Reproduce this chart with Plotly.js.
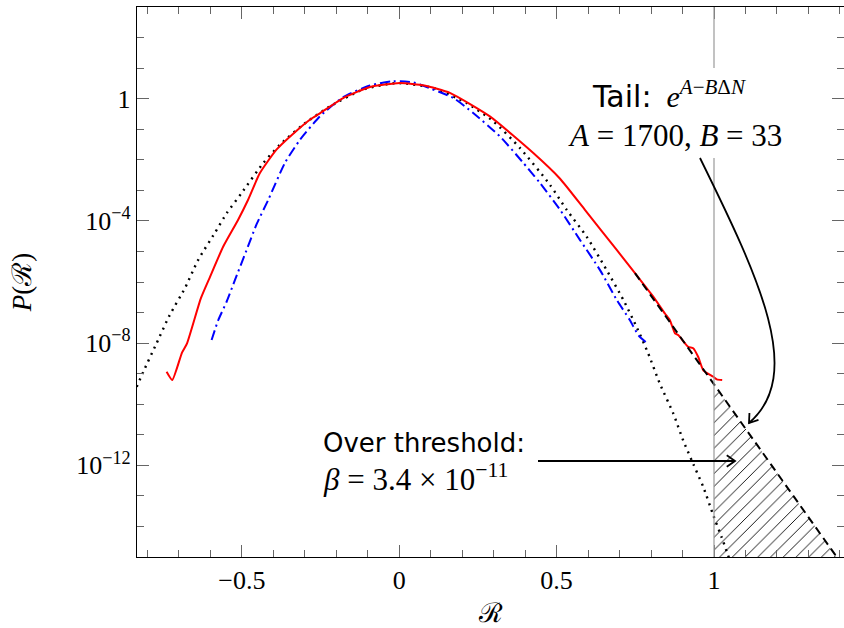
<!DOCTYPE html>
<html>
<head>
<meta charset="utf-8">
<script src="https://cdn.plot.ly/plotly-3.0.1.min.js"></script>
<style>html,body{margin:0;padding:0;background:#fff;}#chart{width:844px;height:628px;}</style>
</head>
<body>
<div id="chart"></div>
<script>
// ---- data ----
const redX = [-0.739,-0.721,-0.69,-0.674,-0.63,-0.601,-0.559,-0.512,-0.48,-0.443,-0.39,-0.326,-0.284,-0.25,-0.178,-0.093,0.002,0.08,0.161,0.288,0.426,0.511,0.59,0.691,0.749,0.807,0.844,0.86,0.876,0.887,0.918,0.934,0.95,0.966,0.998,1.009,1.026];
const redY = [1.15e-9,6.2e-10,4.9e-9,9.8e-9,2.95e-7,1.48e-6,1.45e-5,1.07e-4,4.9e-4,3.6e-3,0.0214,0.089,0.204,0.345,1.05,2.4,3.24,2.7,1.55,0.263,0.0166,2.4e-3,2.3e-4,1.12e-5,1.95e-6,3.3e-7,9.3e-8,5.6e-8,2.1e-8,1.8e-8,7.6e-9,6.8e-9,3.5e-9,1.29e-9,7.9e-10,6.5e-10,6.2e-10];

const blueX = [-0.596,-0.575,-0.548,-0.522,-0.485,-0.453,-0.416,-0.363,-0.316,-0.252,-0.178,-0.093,-0.019,0.045,0.066,0.172,0.235,0.32,0.39,0.447,0.511,0.574,0.638,0.691,0.733,0.76,0.786];
const blueY = [1.26e-8,5.6e-8,2.3e-7,1.15e-6,1.1e-5,7.8e-5,4.9e-4,7.9e-3,0.044,0.263,1.12,2.7,3.7,3.4,2.9,1.05,0.34,0.058,8.9e-3,1.74e-3,2.3e-4,2.4e-5,2.45e-6,2.6e-7,5.6e-8,1.8e-8,1.02e-8];

const gaussX = [-0.834,-0.813,-0.771,-0.729,-0.681,-0.639,-0.586,-0.548,-0.501,-0.432,-0.379,-0.305,-0.22,-0.114,-0.008,0.108,0.214,0.299,0.384,0.479,0.532,0.595,0.659,0.712,0.754,0.791,0.828,0.871,0.902,0.934,0.966,0.998,1.024,1.05];
const gaussY = [3.7e-10,1.15e-9,9.8e-9,8.3e-8,6.2e-7,5.2e-6,4.0e-5,1.78e-4,8.1e-4,7.8e-3,0.031,0.141,0.56,2.0,3.24,2.24,0.72,0.182,0.024,1.51e-3,2.3e-4,3.1e-5,2.45e-6,2.6e-7,3.4e-8,4.6e-9,4.7e-10,4.9e-11,6.6e-12,1.12e-12,1.95e-13,2.3e-14,4.5e-15,8e-16];

const tailX = [0.749, 1.39];
const tailY = [1.95e-6, 1.0e-15];

const overX = [1.0, 1.0, 1.39, 1.0];
const overY = [1.0e-15, 4.5e-10, 1.0e-15, 1.0e-15];

const threshold = 1.0;

const xMajorVals = [-0.5, 0, 0.5, 1];
const xMajorText = ['−0.5', '0', '0.5', '1'];
const xMinorVals = [-0.8,-0.7,-0.6,-0.4,-0.3,-0.2,-0.1,0.1,0.2,0.3,0.4,0.6,0.7,0.8,0.9,1.1,1.2,1.3,1.4];
const yMajorVals = [1e-12, 1e-8, 1e-4, 1];
const yMajorText = ['10<sup>−12</sup>', '10<sup>−8</sup>', '10<sup>−4</sup>', '1'];
const yMinorVals = [1e-15,1e-14,1e-13,1e-11,1e-10,1e-9,1e-7,1e-6,1e-5,1e-3,1e-2,1e-1,1e1,1e2,1e3];

// ---- layout helpers (pixel -> paper) ----
const L = 137, T = 7, W = 707, H = 550;
const X = px => (px - L) / W;
const Y = py => (T + H - py) / H;
const serif = 'Liberation Serif, DejaVu Serif, serif';
const sans = 'DejaVu Sans, sans-serif';
const sp = '\u00a0';
const sp2 = '\u00a0\u00a0';

function arrowHead(tx, ty, dx, dy, len, ang) {
  const n = Math.hypot(dx, dy); const bx = -dx / n, by = -dy / n;
  const c = Math.cos(ang), s = Math.sin(ang);
  const p1 = [tx + len * (bx * c - by * s), ty + len * (bx * s + by * c)];
  const p2 = [tx + len * (bx * c + by * s), ty + len * (-bx * s + by * c)];
  return `M ${X(p1[0])} ${Y(p1[1])} L ${X(tx)} ${Y(ty)} L ${X(p2[0])} ${Y(p2[1])}`;
}

const traces = [
  { x: overX, y: overY, mode: 'lines', fill: 'toself', line: {width: 0, color: 'rgba(0,0,0,0)'},
    fillcolor: 'white', fillpattern: {shape: '/', fgcolor: 'black', bgcolor: 'white', size: 9, solidity: 0.1},
    hoverinfo: 'skip', showlegend: false },
  { x: gaussX, y: gaussY, mode: 'lines', line: {color: 'black', width: 2.4, dash: '2px,5px', shape: 'spline', smoothing: 0.6}, showlegend: false },
  { x: blueX, y: blueY, mode: 'lines', line: {color: '#0000ff', width: 2, dash: '10px,4px,2px,4px', shape: 'spline', smoothing: 0.6}, showlegend: false },
  { x: redX, y: redY, mode: 'lines', line: {color: '#ff0000', width: 2, shape: 'spline', smoothing: 0.5}, showlegend: false },
  { x: tailX, y: tailY, mode: 'lines', line: {color: 'black', width: 2, dash: '8px,5px'}, showlegend: false }
];

const axisCommon = {
  showline: true, linecolor: 'black', linewidth: 1.2, mirror: 'allticks',
  ticks: 'inside', ticklen: 12, tickcolor: '#666', tickwidth: 1,
  showgrid: false, zeroline: false, tickmode: 'array',
  tickfont: {family: serif, size: 26, color: 'black'}
};

const layout = {
  width: 844, height: 628,
  margin: {l: L, r: 0, t: T, b: 628 - T - H},
  paper_bgcolor: 'white', plot_bgcolor: 'white',
  xaxis: Object.assign({}, axisCommon, {
    range: [-0.833, 1.413], tickvals: xMajorVals, ticktext: xMajorText,
    minor: {tickmode: 'array', tickvals: xMinorVals, ticks: 'inside', ticklen: 7, tickcolor: '#666', tickwidth: 1, showgrid: false},
    title: {text: 'ℛ', font: {family: serif, size: 27, color: 'black'}, standoff: 15}
  }),
  yaxis: Object.assign({}, axisCommon, {
    type: 'log', range: [-15, 3], tickvals: yMajorVals, ticktext: yMajorText,
    minor: {tickmode: 'array', tickvals: yMinorVals, ticks: 'inside', ticklen: 7, tickcolor: '#666', tickwidth: 1, showgrid: false},
    title: {text: '<i>P</i>(ℛ)', font: {family: serif, size: 27, color: 'black'}, standoff: 36}
  }),
  shapes: [
    {type: 'line', xref: 'x', yref: 'paper', x0: threshold, x1: threshold, y0: 0, y1: 1, line: {color: '#999', width: 1.2}, layer: 'above'},
    {type: 'rect', xref: 'paper', yref: 'paper', x0: X(555), x1: X(796), y0: Y(158), y1: Y(68), fillcolor: 'white', line: {width: 0}, layer: 'above'},
    {type: 'path', xref: 'paper', yref: 'paper', layer: 'above',
      path: `M ${X(700)} ${Y(158)} C ${X(760)} ${Y(280)}, ${X(805)} ${Y(375)}, ${X(749)} ${Y(423)}`,
      line: {color: 'black', width: 1.8}},
    {type: 'path', xref: 'paper', yref: 'paper', layer: 'above', path: arrowHead(749, 423, -0.6, 0.8, 10, 0.6), line: {color: 'black', width: 1.8}},
    {type: 'line', xref: 'paper', yref: 'paper', layer: 'above', x0: X(538), x1: X(734), y0: Y(461), y1: Y(461), line: {color: 'black', width: 1.8}},
    {type: 'path', xref: 'paper', yref: 'paper', layer: 'above', path: arrowHead(735, 461, 1, 0, 10, 0.6), line: {color: 'black', width: 1.8}}
  ],
  annotations: [
    {xref: 'paper', yref: 'paper', x: X(669), y: Y(94), xanchor: 'center', yanchor: 'middle', showarrow: false,
     text: `<span style="font-family:DejaVu Sans">Tail:</span>${sp2}<i>e</i><sup><i>A</i>−<i>B</i>Δ<i>N</i></sup>`,
     font: {family: serif, size: 30, color: 'black'}},
    {xref: 'paper', yref: 'paper', x: X(675), y: Y(135), xanchor: 'center', yanchor: 'middle', showarrow: false,
     text: `<i>A</i>${sp}=${sp}1700,${sp}<i>B</i>${sp}=${sp}33`, font: {family: serif, size: 31, color: 'black'}},
    {xref: 'paper', yref: 'paper', x: X(321), y: Y(443), xanchor: 'left', yanchor: 'middle', showarrow: false,
     text: 'Over threshold:', font: {family: sans, size: 26, color: 'black'}},
    {xref: 'paper', yref: 'paper', x: X(321), y: Y(477), xanchor: 'left', yanchor: 'middle', showarrow: false,
     text: `<i>β</i>${sp}=${sp}3.4${sp}×${sp}10<sup>−11</sup>`, font: {family: serif, size: 31, color: 'black'}}
  ]
};

Plotly.newPlot('chart', traces, layout, {staticPlot: true, displayModeBar: false});
</script>
</body>
</html>
